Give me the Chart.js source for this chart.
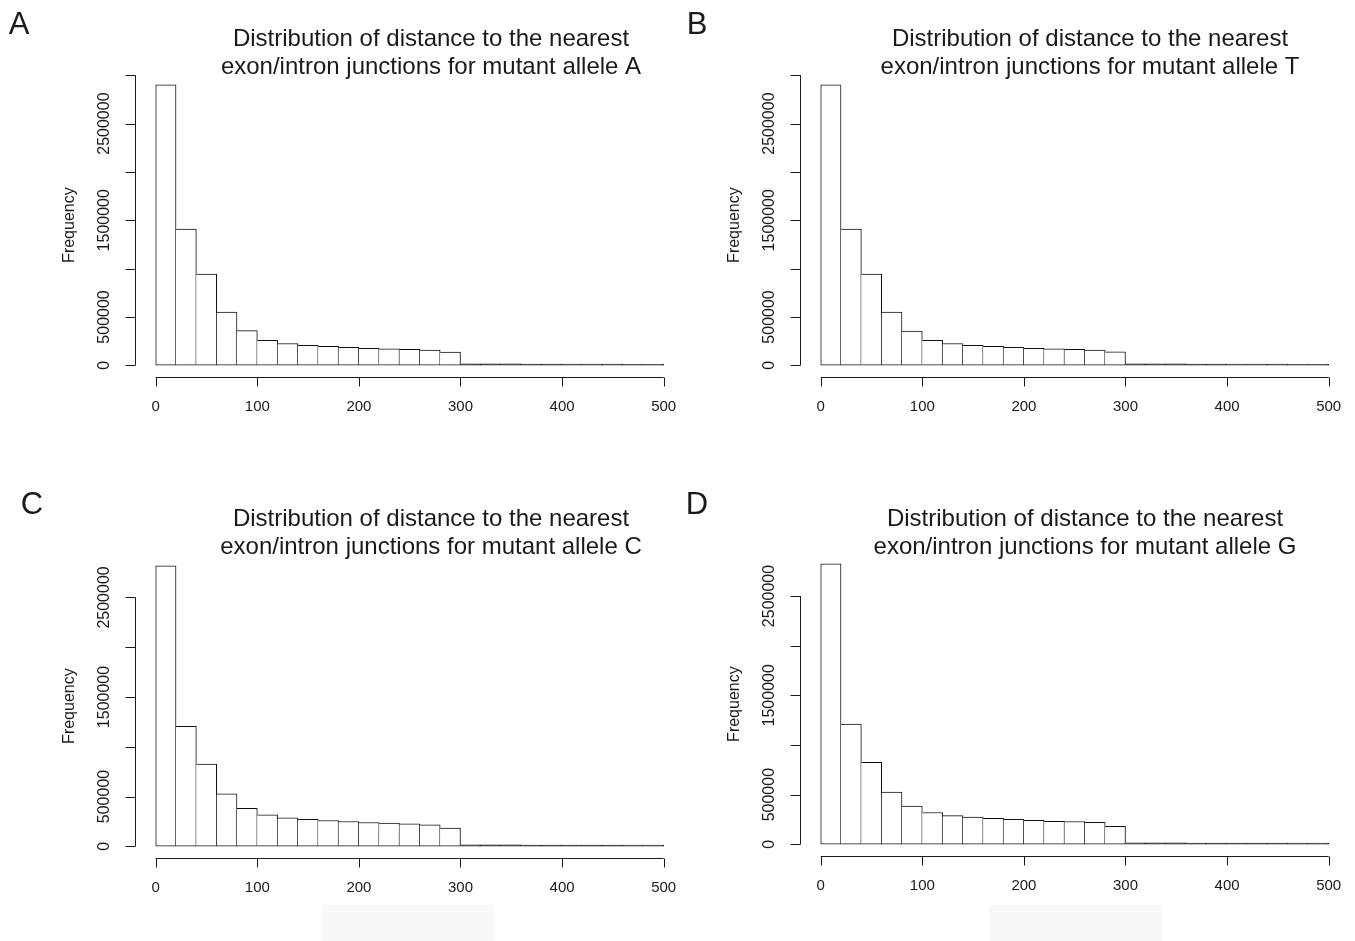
<!DOCTYPE html>
<html>
<head>
<meta charset="utf-8">
<title>Distance to nearest exon/intron junctions</title>
<script src="https://cdn.jsdelivr.net/npm/chart.js@4.4.1/dist/chart.umd.min.js"></script>
<style>
  html, body { margin: 0; padding: 0; background: #fff; }
  #page { position: relative; width: 1355px; height: 941px; overflow: hidden; background: #fff; }
  .panel { position: absolute; width: 690px; height: 470px; }
  .smudge { position: absolute; background: #f8f8fa; }
</style>
</head>
<body>
<div id="page">
  <div class="panel" style="left:0px;top:0px"><canvas id="chartA" width="690" height="470"></canvas></div>
  <div class="panel" style="left:665px;top:0px"><canvas id="chartB" width="690" height="470"></canvas></div>
  <div class="panel" style="left:0px;top:481px"><canvas id="chartC" width="690" height="470"></canvas></div>
  <div class="panel" style="left:665px;top:479px"><canvas id="chartD" width="690" height="470"></canvas></div>
  <div class="smudge" style="left:322px;top:905px;width:172px;height:36px"></div>
  <div class="smudge" style="left:989px;top:905px;width:173px;height:36px"></div>
</div>
<script>
(function () {
  "use strict";

  /* ── Data ── */
  var binMids = [10, 30, 50, 70, 90, 110, 130, 150, 170, 190, 210, 230, 250,
                 270, 290, 310, 330, 350, 370, 390, 410, 430, 450, 470, 490];
  var xTicks = [0, 100, 200, 300, 400, 500];
  var yTicks = [0, 500000, 1000000, 1500000, 2000000, 2500000, 3000000];
  // R drops every other label because they would overlap
  var yTickLabels = ["0", "500000", "", "1500000", "", "2500000", ""];

  var countsA = [2900000, 1410000, 944000, 550000, 358000, 259000, 225000, 207000, 197000,
                 187000, 176000, 169000, 166000, 156000, 136000,
                 15000, 14000, 14000, 13000, 13000, 12000, 12000, 12000, 11000, 11000];
  var countsT = [2900000, 1410000, 944000, 550000, 355000, 259000, 225000, 207000, 197000,
                 187000, 176000, 169000, 166000, 156000, 138000,
                 15000, 14000, 14000, 13000, 13000, 12000, 12000, 12000, 11000, 11000];
  var countsC = [2817000, 1206000, 825000, 526000, 381000, 317000, 286000, 270000, 259000,
                 249000, 239000, 232000, 226000, 216000, 182000,
                 15000, 14000, 14000, 13000, 13000, 12000, 12000, 12000, 11000, 11000];
  var countsG = [2823000, 1211000, 824000, 525000, 384000, 320000, 289000, 273000, 262000,
                 252000, 242000, 232000, 229000, 222000, 182000,
                 15000, 14000, 14000, 13000, 13000, 12000, 12000, 12000, 11000, 11000];

  var titleLine1 = "Distribution of distance to the nearest";
  var titleLine2 = "exon/intron junctions for mutant allele ";

  var FONT = '"Liberation Sans", Arial, Helvetica, sans-serif';
  var INK = "#1a1a1a";

  /* ── Plugin that draws R-style axes, titles and panel letters ── */
  function rStylePlugin(panel) {
    return {
      id: "rStyle",
      afterDraw: function (chart) {
        var ctx = chart.ctx;
        var xs = chart.scales.x, ys = chart.scales.y;
        var area = chart.chartArea;
        ctx.save();
        ctx.strokeStyle = INK;
        ctx.fillStyle = INK;
        ctx.lineWidth = 1;

        // y axis: line from first to last tick inside range
        var shown = yTicks.filter(function (v) { return v <= ys.max; });
        var yAxisX = Math.round(area.left) + 0.5;
        ctx.beginPath();
        ctx.moveTo(yAxisX, ys.getPixelForValue(shown[0]));
        ctx.lineTo(yAxisX, ys.getPixelForValue(shown[shown.length - 1]));
        shown.forEach(function (v) {
          var py = Math.round(ys.getPixelForValue(v)) + 0.5;
          ctx.moveTo(yAxisX, py);
          ctx.lineTo(yAxisX - 10, py);
        });
        ctx.stroke();

        ctx.font = "16px " + FONT;
        ctx.textAlign = "center";
        ctx.textBaseline = "middle";
        shown.forEach(function (v, i) {
          var lbl = yTickLabels[i];
          if (!lbl) return;
          ctx.save();
          ctx.translate(area.left - 31, ys.getPixelForValue(v));
          ctx.rotate(-Math.PI / 2);
          ctx.fillText(lbl, 0, 0);
          ctx.restore();
        });

        // y axis title
        ctx.save();
        ctx.translate(area.left - 66, (area.top + area.bottom) / 2);
        ctx.rotate(-Math.PI / 2);
        ctx.fillText("Frequency", 0, 0);
        ctx.restore();

        // x axis
        var xAxisY = Math.round(area.bottom) + 0.5;
        ctx.beginPath();
        ctx.moveTo(xs.getPixelForValue(xTicks[0]), xAxisY);
        ctx.lineTo(xs.getPixelForValue(xTicks[xTicks.length - 1]), xAxisY);
        xTicks.forEach(function (v) {
          var px = Math.round(xs.getPixelForValue(v)) + 0.5;
          ctx.moveTo(px, xAxisY);
          ctx.lineTo(px, xAxisY + 9);
        });
        ctx.stroke();

        ctx.font = "15px " + FONT;
        ctx.textBaseline = "alphabetic";
        xTicks.forEach(function (v) {
          ctx.fillText(String(v), xs.getPixelForValue(v), area.bottom + 34);
        });

        // main title, two lines
        ctx.font = "24px " + FONT;
        ctx.fillText(titleLine1, panel.titleX, panel.titleY);
        ctx.fillText(titleLine2 + panel.allele, panel.titleX, panel.titleY + 28);

        // panel letter
        ctx.font = "31px " + FONT;
        ctx.fillText(panel.letter, panel.letterX, panel.letterY);
        ctx.restore();
      }
    };
  }

  /* ── Build one histogram panel ── */
  function makePanel(canvasId, counts, panel) {
    var maxCount = Math.max.apply(null, counts);
    var points = binMids.map(function (m, i) { return { x: m, y: counts[i] }; });

    return new Chart(document.getElementById(canvasId), {
      type: "bar",
      data: {
        datasets: [{
          data: points,
          // near-empty bins collapse to a dark sliver, as in R's hist()
          backgroundColor: function (c) {
            return c.raw && c.raw.y < 0.01 * maxCount ? "#222222" : "#ffffff";
          },
          borderColor: "#111111",
          borderWidth: function (c) {
            return { left: c.dataIndex === 0 ? 1 : 0, right: 1, top: 1, bottom: 1 };
          },
          borderSkipped: false,
          barPercentage: 1,
          categoryPercentage: 1,
        }],
      },
      options: {
        responsive: false,
        animation: false,
        events: [],
        layout: { padding: { left: 135.4, top: 73.7, right: 6, bottom: 93.5 } },
        plugins: { legend: { display: false }, tooltip: { enabled: false }, title: { display: false } },
        scales: {
          x: { type: "linear", min: -20, max: 520, offset: false, display: false },
          y: { type: "linear", min: -0.04 * maxCount, max: 1.04 * maxCount, display: false },
        },
      },
      plugins: [rStylePlugin(panel)],
    });
  }

  makePanel("chartA", countsA, { allele: "A", letter: "A", titleX: 431, titleY: 46, letterX: 19, letterY: 34 });
  makePanel("chartB", countsT, { allele: "T", letter: "B", titleX: 425, titleY: 46, letterX: 32, letterY: 34 });
  makePanel("chartC", countsC, { allele: "C", letter: "C", titleX: 431, titleY: 45, letterX: 32, letterY: 33 });
  makePanel("chartD", countsG, { allele: "G", letter: "D", titleX: 420, titleY: 47, letterX: 32, letterY: 35 });
})();
</script>
</body>
</html>
